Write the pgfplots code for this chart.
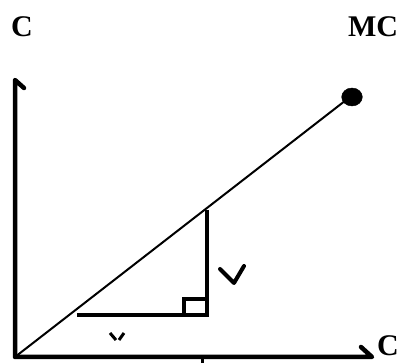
\documentclass[border=0pt]{standalone}
\usepackage{fontspec}
\setmainfont{Liberation Serif}
\usepackage{pgfplots}
\pgfplotsset{compat=1.18}

\begin{document}
\begin{tikzpicture}
  \begin{axis}[
    hide axis, scale only axis,
    width=405pt, height=363pt,
    xmin=0, xmax=405, ymin=0, ymax=363,
    clip=false,
  ]
  % axes (pixel coordinates, y measured from bottom)
  \addplot[black, line width=4.5pt, line cap=round, line join=round]
    coordinates {(24,275) (15,283) (15,6) (372,6) (361,16)};
  % MC line
  \addplot[black, line width=2pt]
    coordinates {(15,6) (350,266)};
  \addplot[black, only marks, mark=*, mark options={xscale=1.15}, mark size=9pt]
    coordinates {(352,266)};
  % triangle
  \addplot[black, line width=4pt]
    coordinates {(77,48) (207,48) (207,153)};
  \addplot[black, line width=3.5pt]
    coordinates {(184,48) (184,64) (205,64)};
  % hand-drawn V mark
  \addplot[black, line width=4pt, line cap=round, line join=round]
    coordinates {(220,94) (234,80) (244,97)};
  % cut-off Y fragment
  \addplot[black, line width=3pt]
    coordinates {(110,30) (116,23)};
  \addplot[black, line width=3pt]
    coordinates {(124,30) (119,23)};
  % tick below axis
  \addplot[black, line width=3pt]
    coordinates {(202,6) (202,0)};
  \node[font=\fontsize{30}{34}\selectfont\bfseries] at (axis cs:22,336) {C};
  \node[font=\fontsize{30}{34}\selectfont\bfseries] at (axis cs:373,336) {MC};
  \node[font=\fontsize{30}{34}\selectfont\bfseries, anchor=base east, inner sep=0pt] at (axis cs:399,7) {C};
  \coordinate (sw) at (axis cs:0,0);
  \coordinate (ne) at (axis cs:405,363);
  \end{axis}
  \pgfresetboundingbox
  \useasboundingbox (sw) rectangle (ne);
\end{tikzpicture}
\end{document}
